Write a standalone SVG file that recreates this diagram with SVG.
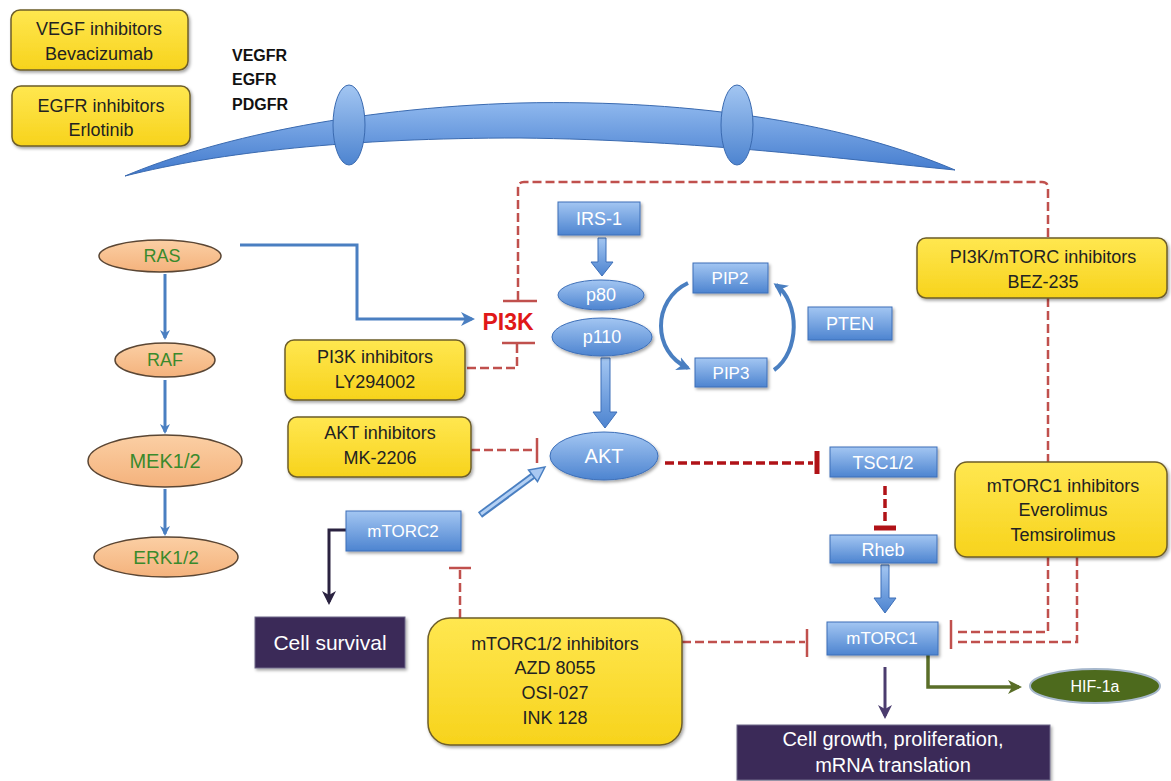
<svg xmlns="http://www.w3.org/2000/svg" width="1171" height="781" viewBox="0 0 1171 781">
<defs>
<linearGradient id="gBlue" x1="0" y1="0" x2="0" y2="1">
<stop offset="0" stop-color="#a3c6f2"/><stop offset="1" stop-color="#4d84d0"/>
</linearGradient>
<linearGradient id="gMem" x1="0" y1="0" x2="0" y2="1">
<stop offset="0" stop-color="#8fb8ee"/><stop offset="1" stop-color="#3f78cc"/>
</linearGradient>
<linearGradient id="gYel" x1="0" y1="0" x2="0" y2="1">
<stop offset="0" stop-color="#ffe750"/><stop offset="1" stop-color="#f7d31c"/>
</linearGradient>
<linearGradient id="gPeach" x1="0" y1="0" x2="0" y2="1">
<stop offset="0" stop-color="#fbcfa4"/><stop offset="1" stop-color="#f4b27c"/>
</linearGradient>
<filter id="sh" x="-10%" y="-10%" width="130%" height="140%">
<feDropShadow dx="1.5" dy="2" stdDeviation="1.5" flood-color="#000" flood-opacity="0.35"/>
</filter>
<marker id="aBlue" markerWidth="10" markerHeight="10" refX="8" refY="5" orient="auto" markerUnits="userSpaceOnUse">
<path d="M0,0 L10,5 L0,10 L3,5 Z" fill="#4a7fc1"/>
</marker>
<marker id="aBlueL" markerWidth="14" markerHeight="14" refX="11" refY="7" orient="auto" markerUnits="userSpaceOnUse">
<path d="M0,0 L14,7 L0,14 L4,7 Z" fill="#4a7fc1"/>
</marker>
<marker id="aNavy" markerWidth="14" markerHeight="14" refX="11" refY="7" orient="auto" markerUnits="userSpaceOnUse">
<path d="M0,0 L14,7 L0,14 L4,7 Z" fill="#2a2240"/>
</marker>
<marker id="aPurp" markerWidth="14" markerHeight="14" refX="11" refY="7" orient="auto" markerUnits="userSpaceOnUse">
<path d="M0,0 L14,7 L0,14 L4,7 Z" fill="#4b3c6e"/>
</marker>
<marker id="aOlive" markerWidth="14" markerHeight="14" refX="11" refY="7" orient="auto" markerUnits="userSpaceOnUse">
<path d="M0,0 L14,7 L0,14 L4,7 Z" fill="#5a6e28"/>
</marker>
</defs>
<style>
.yel{fill:url(#gYel);stroke:#6e5e2a;stroke-width:1.5;filter:url(#sh)}
.yt{font-family:"Liberation Sans",Arial,sans-serif;font-size:18px;fill:#222;text-anchor:middle}
.blu{fill:url(#gBlue);stroke:#3d6fb8;stroke-width:1;filter:url(#sh)}
.bt{font-family:"Liberation Sans",Arial,sans-serif;fill:#fff;text-anchor:middle}
.pea{fill:url(#gPeach);stroke:#5a4634;stroke-width:1.5}
.gt{font-family:"Liberation Sans",Arial,sans-serif;font-size:18px;fill:#3a8a2c;text-anchor:middle}
.dash{fill:none;stroke:#c0504d;stroke-width:2.5;stroke-dasharray:9,4}
.bar{stroke:#c0504d;stroke-width:2.5}
.dk{fill:none;stroke:#b01217;stroke-width:3.5;stroke-dasharray:9,4}
.dkbar{stroke:#b01217;stroke-width:5}
.bl{fill:none;stroke:#4a7fc1;stroke-width:3}
.rl{font-family:"Liberation Sans",Arial,sans-serif;font-size:16px;font-weight:bold;fill:#111}
.pur{fill:#3b2b58;stroke:#6f6a8a;stroke-width:1;filter:url(#sh)}
</style>
<rect width="1171" height="781" fill="#fff"/>

<g id="membrane">
<path d="M125,176 C210,140 350,108 520,103 C700,99 850,125 955,170 C850,160 700,140 520,138 C350,138 220,152 125,176 Z" fill="url(#gMem)" stroke="#3a6ab0" stroke-width="1"/>
<ellipse cx="349" cy="125" rx="16" ry="40" fill="url(#gBlue)" stroke="#3a6ab0" stroke-width="1"/>
<ellipse cx="737" cy="125" rx="16" ry="40" fill="url(#gBlue)" stroke="#3a6ab0" stroke-width="1"/>
</g>

<g id="receptor-labels">
<text class="rl" x="232" y="61">VEGFR</text>
<text class="rl" x="232" y="85">EGFR</text>
<text class="rl" x="232" y="110">PDGFR</text>
</g>

<g id="connectors">
<line class="bl" x1="165" y1="274" x2="165" y2="338" marker-end="url(#aBlue)"/>
<line class="bl" x1="165" y1="380" x2="165" y2="432" marker-end="url(#aBlue)"/>
<line class="bl" x1="165" y1="489" x2="165" y2="534" marker-end="url(#aBlue)"/>
<path class="bl" d="M240,245 H357 V319 H472" marker-end="url(#aBlueL)"/>
<path class="dash" d="M518,300 V188 Q518,182 524,182 H1042 Q1048,182 1048,188 V238"/>
<line class="bar" x1="503" y1="301" x2="537" y2="301"/>
<path class="dash" d="M467,368 H517 V343"/>
<line class="bar" x1="502" y1="343" x2="535" y2="343"/>
<path class="dash" d="M1048,298 V462"/>
<polygon points="598,238 606,238 606,262 613,262 602,276 591,262 598,262" fill="url(#gBlue)" stroke="#3d6fb8" stroke-width="1"/>
<polygon points="601,358 610,358 610,412 617,412 605,428 593,412 601,412" fill="url(#gBlue)" stroke="#3d6fb8" stroke-width="1"/>
<path d="M688,283 C652,300 652,352 688,368" fill="none" stroke="#4a7fc1" stroke-width="4" marker-end="url(#aBlueL)"/>
<path d="M774,370 C800,352 800,302 776,285" fill="none" stroke="#4a7fc1" stroke-width="4" marker-end="url(#aBlueL)"/>
<path class="dash" d="M471,450 H536"/>
<line class="bar" x1="537" y1="438" x2="537" y2="463"/>
<line x1="480" y1="515" x2="534" y2="475" stroke="#4a7fc1" stroke-width="7"/>
<line x1="481" y1="514" x2="534" y2="475" stroke="#b3d0f4" stroke-width="3"/>
<polygon points="545,467 537.5,481.5 528.5,470" fill="#a9c8f2" stroke="#4a7fc1" stroke-width="1.5"/>
<path class="dk" d="M665,463 H813"/>
<line class="dkbar" x1="817" y1="451" x2="817" y2="474"/>
<path class="dk" d="M885,486 V524" stroke-width="5"/>
<line class="dkbar" x1="874" y1="528" x2="896" y2="528"/>
<polygon points="881,565 889,565 889,598 896,598 885,613 874,598 881,598" fill="url(#gBlue)" stroke="#3d6fb8" stroke-width="1"/>
<path class="dash" d="M1048,557 V632 H955"/>
<path class="dash" d="M1077,557 V642 H955"/>
<line class="bar" x1="951" y1="620" x2="951" y2="649"/>
<path class="dash" d="M682,642 H805"/>
<line class="bar" x1="807" y1="629" x2="807" y2="657"/>
<path class="dash" d="M460,618 V570"/>
<line class="bar" x1="449" y1="568" x2="471" y2="568"/>
<path d="M346,530 H329 V602" fill="none" stroke="#2a2240" stroke-width="3" marker-end="url(#aNavy)"/>
<line x1="885" y1="667" x2="885" y2="716" stroke="#4b3c6e" stroke-width="3" marker-end="url(#aPurp)"/>
<path d="M928,655 V687 H1019" fill="none" stroke="#5a6e28" stroke-width="3.5" marker-end="url(#aOlive)"/>
</g>

<g id="vegf-inhibitors">
<rect class="yel" x="11" y="10" width="177" height="60" rx="9"/>
<text class="yt" x="99" y="35">VEGF inhibitors</text>
<text class="yt" x="99" y="60">Bevacizumab</text>
</g>
<g id="egfr-inhibitors">
<rect class="yel" x="12" y="86" width="178" height="60" rx="9"/>
<text class="yt" x="101" y="112">EGFR inhibitors</text>
<text class="yt" x="101" y="136">Erlotinib</text>
</g>

<g id="ras"><ellipse class="pea" cx="160" cy="256" rx="61" ry="16"/><text class="gt" x="162" y="262">RAS</text></g>
<g id="raf"><ellipse class="pea" cx="165" cy="360" rx="50" ry="17"/><text class="gt" x="165" y="366">RAF</text></g>
<g id="mek"><ellipse class="pea" cx="165" cy="461" rx="77" ry="26"/><text class="gt" x="165" y="468" style="font-size:20px">MEK1/2</text></g>
<g id="erk"><ellipse class="pea" cx="166" cy="557" rx="72" ry="20"/><text class="gt" x="166" y="564" style="font-size:19px">ERK1/2</text></g>

<g id="pi3k"><text x="508" y="330" font-family="Liberation Sans,Arial,sans-serif" font-size="23" font-weight="bold" fill="#e01818" text-anchor="middle">PI3K</text></g>

<g id="pi3k-inhibitors">
<rect class="yel" x="285" y="340" width="180" height="60" rx="9"/>
<text class="yt" x="375" y="363">PI3K inhibitors</text>
<text class="yt" x="375" y="388">LY294002</text>
</g>

<g id="irs1"><rect class="blu" x="558" y="202" width="82" height="33"/><text class="bt" x="599" y="225" font-size="18">IRS-1</text></g>
<g id="p80"><ellipse class="blu" cx="601" cy="295" rx="43" ry="15"/><text class="bt" x="601" y="301" font-size="18">p80</text></g>
<g id="p110"><ellipse class="blu" cx="602" cy="337" rx="50" ry="19"/><text class="bt" x="602" y="343" font-size="18">p110</text></g>
<g id="pip2"><rect class="blu" x="693" y="263" width="75" height="30"/><text class="bt" x="730" y="284" font-size="17">PIP2</text></g>
<g id="pip3"><rect class="blu" x="695" y="358" width="72" height="29"/><text class="bt" x="731" y="379" font-size="17">PIP3</text></g>
<g id="pten"><rect class="blu" x="808" y="307" width="84" height="33"/><text class="bt" x="850" y="330" font-size="18">PTEN</text></g>

<g id="pi3k-mtorc-inhibitors">
<rect class="yel" x="917" y="238" width="250" height="60" rx="9"/>
<text class="yt" x="1043" y="263">PI3K/mTORC inhibitors</text>
<text class="yt" x="1043" y="288">BEZ-235</text>
</g>

<g id="akt-inhibitors">
<rect class="yel" x="288" y="417" width="183" height="60" rx="9"/>
<text class="yt" x="380" y="439">AKT inhibitors</text>
<text class="yt" x="380" y="464">MK-2206</text>
</g>

<g id="akt"><ellipse class="blu" cx="604" cy="456" rx="54" ry="24"/><text class="bt" x="604" y="463" font-size="20">AKT</text></g>
<g id="tsc"><rect class="blu" x="830" y="447" width="107" height="30"/><text class="bt" x="883" y="469" font-size="18">TSC1/2</text></g>
<g id="rheb"><rect class="blu" x="830" y="535" width="107" height="28"/><text class="bt" x="883" y="556" font-size="18">Rheb</text></g>

<g id="mtorc1-inhibitors">
<rect class="yel" x="955" y="462" width="212" height="95" rx="12"/>
<text class="yt" x="1063" y="492">mTORC1 inhibitors</text>
<text class="yt" x="1063" y="516">Everolimus</text>
<text class="yt" x="1063" y="541">Temsirolimus</text>
</g>

<g id="mtorc2"><rect class="blu" x="346" y="511" width="115" height="40"/><text class="bt" x="403" y="537" font-size="17">mTORC2</text></g>

<g id="cell-survival"><rect class="pur" x="255" y="617" width="150" height="51"/><text class="bt" x="330" y="650" font-size="21">Cell survival</text></g>

<g id="mtorc12-inhibitors">
<rect class="yel" x="428" y="618" width="254" height="127" rx="22"/>
<text class="yt" x="555" y="650">mTORC1/2 inhibitors</text>
<text class="yt" x="555" y="674">AZD 8055</text>
<text class="yt" x="555" y="699">OSI-027</text>
<text class="yt" x="555" y="724">INK 128</text>
</g>

<g id="mtorc1"><rect class="blu" x="827" y="622" width="111" height="33"/><text class="bt" x="882" y="644" font-size="17">mTORC1</text></g>

<g id="hif1a"><ellipse cx="1095" cy="686" rx="65" ry="17" fill="#4d6a1d" stroke="#a7b8cc" stroke-width="2"/><text class="bt" x="1095" y="692" font-size="16">HIF-1a</text></g>

<g id="cell-growth">
<rect class="pur" x="737" y="725" width="313" height="55"/>
<text class="bt" x="893" y="746" font-size="20">Cell growth, proliferation,</text>
<text class="bt" x="893" y="772" font-size="20">mRNA translation</text>
</g>
</svg>
